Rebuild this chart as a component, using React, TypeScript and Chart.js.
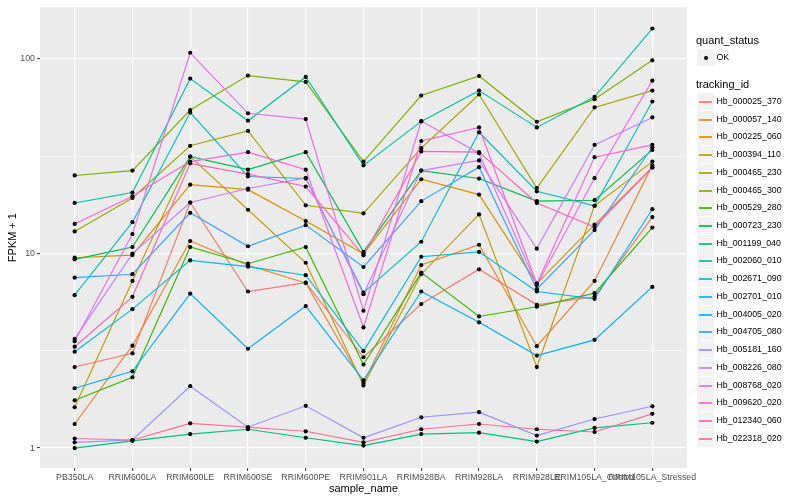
import React, { useEffect, useRef } from "react";
import { Chart, registerables } from "chart.js";

Chart.register(...registerables);

const categories = [
  "PB350LA", "RRIM600LA", "RRIM600LE", "RRIM600SE", "RRIM600PE", "RRIM901LA",
  "RRIM928BA", "RRIM928LA", "RRIM928LE", "RRIM105LA_Control", "RRIM105LA_Stressed",
];

const trackingIds = [
  "Hb_000025_370", "Hb_000057_140", "Hb_000225_060", "Hb_000394_110", "Hb_000465_230",
  "Hb_000465_300", "Hb_000529_280", "Hb_000723_230", "Hb_001199_040", "Hb_002060_010",
  "Hb_002671_090", "Hb_002701_010", "Hb_004005_020", "Hb_004705_080", "Hb_005181_160",
  "Hb_008226_080", "Hb_008768_020", "Hb_009620_020", "Hb_012340_060", "Hb_022318_020",
];

const seriesColors = [
  "#F8766D", "#EA8331", "#D89000", "#C09B00", "#A3A500",
  "#7CAE00", "#39B600", "#00BB4E", "#00BF7D", "#00C1A3",
  "#00BFC4", "#00BAE0", "#00B0F6", "#35A2FF", "#9590FF",
  "#C77CFF", "#E76BF3", "#FA62DB", "#FF62BC", "#FF6C91",
];

const hb_000025_370 = [2.61, 3.07, 18.3, 6.38, 7.09, 2.93, 5.5, 8.3, 5.45, 6.0, 15.4];
const hb_000057_140 = [1.33, 3.36, 11.6, 8.7, 7.06, 2.16, 8.73, 11.1, 3.34, 7.23, 28.4];
const hb_000225_060 = [9.52, 9.82, 22.6, 21.3, 14.7, 9.98, 24.1, 20.1, 7.01, 14.1, 27.7];
const hb_000394_110 = [1.62, 7.23, 31.5, 16.8, 8.97, 2.1, 7.83, 15.9, 2.61, 17.6, 29.7];
const hb_000465_230 = [13.0, 19.3, 35.8, 42.7, 17.7, 16.1, 34.8, 65.7, 21.7, 56.4, 68.8];
const hb_000465_300 = [25.2, 26.7, 54.7, 82.2, 76.3, 29.7, 64.9, 81.8, 47.6, 62.2, 98.5];
const hb_000529_280 = [1.76, 2.31, 10.8, 8.87, 10.8, 2.69, 7.98, 4.75, 5.33, 6.26, 13.6];
const hb_000723_230 = [9.34, 10.8, 31.5, 27.0, 33.2, 10.2, 26.7, 24.3, 18.6, 18.8, 34.1];
const hb_001199_040 = [1.0, 1.09, 1.18, 1.25, 1.13, 1.03, 1.18, 1.2, 1.08, 1.27, 1.35];
const hb_002060_010 = [18.2, 20.6, 79.3, 48.2, 80.9, 28.4, 47.8, 68.8, 44.5, 63.9, 143.5];
const hb_002671_090 = [6.11, 14.5, 53.1, 24.9, 24.3, 6.3, 11.5, 42.0, 20.9, 17.6, 60.5];
const hb_002701_010 = [3.13, 5.18, 9.23, 8.56, 7.74, 3.15, 9.63, 10.2, 6.38, 5.85, 16.9];
const hb_004005_020 = [2.03, 2.48, 6.23, 3.24, 5.37, 2.23, 6.38, 4.43, 2.99, 3.6, 6.74];
const hb_004705_080 = [7.52, 7.83, 16.2, 10.9, 14.0, 8.53, 18.6, 27.8, 6.56, 13.2, 35.2];
const hb_005181_160 = [1.07, 1.1, 2.08, 1.28, 1.65, 1.13, 1.44, 1.53, 1.16, 1.41, 1.64];
const hb_008226_080 = [3.64, 10.0, 18.3, 21.6, 24.5, 6.18, 26.7, 30.1, 10.6, 36.2, 50.1];
const hb_008768_020 = [3.54, 12.6, 107.7, 52.6, 49.1, 5.08, 48.0, 32.8, 6.9, 24.4, 77.4];
const hb_009620_020 = [14.2, 19.7, 29.7, 33.2, 27.0, 4.17, 37.9, 44.5, 7.0, 31.3, 36.2];
const hb_012340_060 = [3.32, 5.99, 29.1, 25.6, 22.1, 9.79, 33.5, 33.2, 18.2, 13.7, 27.7];
const hb_022318_020 = [1.12, 1.1, 1.34, 1.28, 1.22, 1.07, 1.25, 1.33, 1.25, 1.21, 1.5];

const seriesValues = [
  hb_000025_370, hb_000057_140, hb_000225_060, hb_000394_110, hb_000465_230,
  hb_000465_300, hb_000529_280, hb_000723_230, hb_001199_040, hb_002060_010,
  hb_002671_090, hb_002701_010, hb_004005_020, hb_004705_080, hb_005181_160,
  hb_008226_080, hb_008768_020, hb_009620_020, hb_012340_060, hb_022318_020,
];

const yMajorTicks = [1, 10, 100];
const yMinorTicks = [3.1623, 31.623];
const yMin = 0.79;
const yMax = 184.5;

const FONT = '"Liberation Sans", Arial, Helvetica, sans-serif';

const panelBg = {
  id: "panelBg",
  beforeDraw(chart: any) {
    const { ctx, chartArea } = chart;
    if (!chartArea) return;
    ctx.save();
    ctx.fillStyle = "#EBEBEB";
    ctx.fillRect(chartArea.left, chartArea.top, chartArea.right - chartArea.left, chartArea.bottom - chartArea.top);
    ctx.restore();
  },
};

export default function App() {
  const canvasRef = useRef<HTMLCanvasElement | null>(null);

  useEffect(() => {
    document.body.style.margin = "0";
    const canvas = canvasRef.current;
    if (!canvas) return;

    const lineSets = seriesValues.map((vals, s) => ({
      type: "line" as const,
      label: trackingIds[s],
      data: vals.map((v, i) => ({ x: i + 1, y: v })),
      borderColor: seriesColors[s],
      backgroundColor: seriesColors[s],
      borderWidth: 1.15,
      pointRadius: 0,
      fill: false,
      tension: 0,
      order: 100 - s,
    }));
    const pointSets = seriesValues.map((vals, s) => ({
      type: "line" as const,
      label: trackingIds[s] + " points",
      data: vals.map((v, i) => ({ x: i + 1, y: v })),
      showLine: false,
      borderColor: "#000000",
      backgroundColor: "#000000",
      pointBackgroundColor: "#000000",
      pointBorderWidth: 0,
      pointRadius: 2.1,
      order: 0,
    }));

    const isMajor = (v: number) => yMajorTicks.some((m) => Math.abs(m - v) < 1e-6);

    const chart = new Chart(canvas, {
      type: "line",
      data: { datasets: [...lineSets, ...pointSets] as any },
      options: {
        animation: false,
        responsive: false,
        devicePixelRatio: 1,
        layout: { padding: { left: 0, top: 5, right: 113, bottom: 0 } },
        plugins: { legend: { display: false }, tooltip: { enabled: false } },
        scales: {
          x: {
            type: "linear",
            min: 0.4,
            max: categories.length + 0.6,
            afterBuildTicks: (scale: any) => {
              scale.ticks = categories.map((_, i) => ({ value: i + 1 }));
            },
            afterFit: (scale: any) => {
              scale.height = 32;
            },
            ticks: {
              autoSkip: false,
              maxRotation: 0,
              minRotation: 0,
              padding: 1,
              color: "#4D4D4D",
              font: { family: FONT, size: 8.8 },
              callback: (v: any) => categories[Math.round(Number(v)) - 1] ?? "",
            },
            grid: {
              color: "#FFFFFF",
              lineWidth: 1.2,
              tickColor: "#333333",
              tickLength: 3,
              tickWidth: 1,
            },
            border: { display: false },
            title: {
              display: true,
              text: "sample_name",
              color: "#000000",
              font: { family: FONT, size: 11 },
              padding: { top: 0, bottom: 4.5 },
            },
          },
          y: {
            type: "logarithmic",
            min: yMin,
            max: yMax,
            afterBuildTicks: (scale: any) => {
              scale.ticks = [...yMajorTicks, ...yMinorTicks]
                .sort((a, b) => a - b)
                .map((v) => ({ value: v }));
            },
            afterFit: (scale: any) => {
              scale.width = 40;
            },
            ticks: {
              autoSkip: false,
              padding: 2,
              color: "#4D4D4D",
              font: { family: FONT, size: 8.8 },
              callback: (v: any) => (isMajor(Number(v)) ? String(Number(v)) : ""),
            },
            grid: {
              color: "#FFFFFF",
              lineWidth: (ctx: any) => (ctx.tick && isMajor(ctx.tick.value) ? 1.2 : 0.6),
              tickColor: (ctx: any) => (ctx.tick && isMajor(ctx.tick.value) ? "#333333" : "rgba(0,0,0,0)"),
              tickLength: 3,
              tickWidth: 1,
            },
            border: { display: false },
            title: {
              display: true,
              text: "FPKM + 1",
              color: "#000000",
              font: { family: FONT, size: 11 },
              padding: { top: 6.5, bottom: 0 },
            },
          },
        },
      } as any,
      plugins: [panelBg],
    });

    return () => chart.destroy();
  }, []);

  const itemTop = 101;
  const itemStep = 17.72;

  return (
    <div style={{ position: "relative", width: 800, height: 500, background: "#FFFFFF", fontFamily: FONT }}>
      <canvas ref={canvasRef} width={800} height={500} style={{ position: "absolute", left: 0, top: 0, width: 800, height: 500 }} />
      <div style={{ position: "absolute", left: 696, top: 34, fontSize: 11, lineHeight: "13px", color: "#000" }}>quant_status</div>
      <div style={{ position: "absolute", left: 697, top: 49, width: 17, height: 17, background: "#F2F2F2" }}>
        <div style={{ position: "absolute", left: 6.5, top: 6.5, width: 4, height: 4, borderRadius: 2, background: "#000" }} />
      </div>
      <div style={{ position: "absolute", left: 716.5, top: 52, fontSize: 8.8, lineHeight: "11px", color: "#000" }}>OK</div>
      <div style={{ position: "absolute", left: 696, top: 78, fontSize: 11, lineHeight: "13px", color: "#000" }}>tracking_id</div>
      {trackingIds.map((id, i) => {
        const cy = Math.round(itemTop + i * itemStep);
        return (
          <React.Fragment key={id}>
            <div style={{ position: "absolute", left: 697, top: cy - 8, width: 17, height: 17, background: "#F2F2F2" }} />
            <div style={{ position: "absolute", left: 699, top: cy, width: 13, height: 2, background: seriesColors[i], opacity: 0.85 }} />
            <div style={{ position: "absolute", left: 716.5, top: cy - 5, fontSize: 8.8, lineHeight: "11px", color: "#000", whiteSpace: "nowrap" }}>{id}</div>
          </React.Fragment>
        );
      })}
    </div>
  );
}
